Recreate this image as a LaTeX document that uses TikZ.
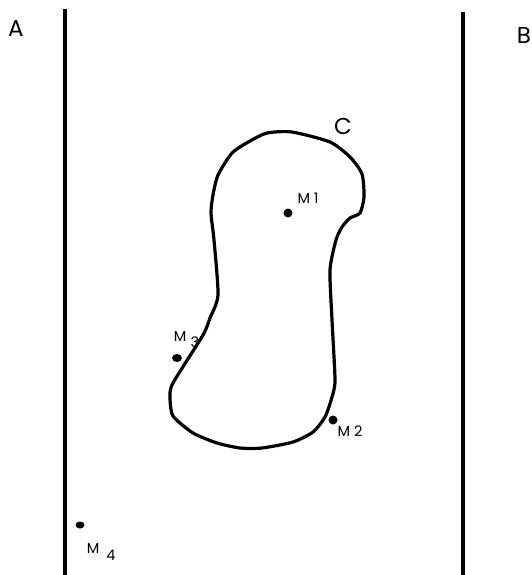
\documentclass[tikz,border=0pt]{standalone}
\usepackage{fontspec}
\usetikzlibrary{shapes.geometric}
\setmainfont{Poppins}
\begin{document}
\begin{tikzpicture}[x=1pt,y=-1pt,
  wall/.style={line width=3.2pt},
  blob/.style={line width=3.2pt, line join=round},
  pt/.style={fill=black, circle, inner sep=0pt, minimum size=9pt},
  big/.style={font=\fontsize{23}{24}\selectfont, inner sep=0pt},
  small/.style={font=\fontsize{14.5}{15}\selectfont, inner sep=0pt}]
\useasboundingbox (0,0) rectangle (531,575);
\coordinate (a1) at (65,9); \coordinate (a2) at (65,575);
\coordinate (b1) at (463,12); \coordinate (b2) at (463,575);
\draw[wall] (a1) -- (a2);
\draw[wall] (b1) -- (b2);
\node[big] (A) at (16,29) {A};
\node[big] (B) at (524,35) {B};
\node[big] (C) at (343,126) {C};
% M3 label under curve
\node[small] (m3) at (180,336) {M};
\node[small] (m3i) at (195,342) {3};
\draw[blob] plot[smooth cycle, tension=0.4] coordinates {
 (267,133) (292,132) (330,142) (350,157) (362,174) (364,197) (360,213)
 (350,218) (342,227) (336,240) (330,270) (332,320) (335,380) (332,397)
 (325,417) (313,432) (293,442) (262,448) (240,448) (217,443) (193,433)
 (173,416) (170,397) (173,383) (203,335) (210,318) (218,295) (214,240)
 (211,213) (213,195) (218,175) (232,153) (250,141)};
\node[pt] (M1) at (288,213) {};
\node[pt] (M2) at (333,420) {};
\node[pt, ellipse, minimum width=10pt, minimum height=8pt] (M3) at (177,358) {};
\node[pt, ellipse, minimum width=9pt, minimum height=7pt] (M4) at (80,525) {};
\node[small] (l1) at (308,198) {M 1};
\node[small] (l2) at (350,431) {M 2};
\node[small] (l4) at (93,548) {M};
\node[small] (l4i) at (111,555) {4};
\end{tikzpicture}
\end{document}
